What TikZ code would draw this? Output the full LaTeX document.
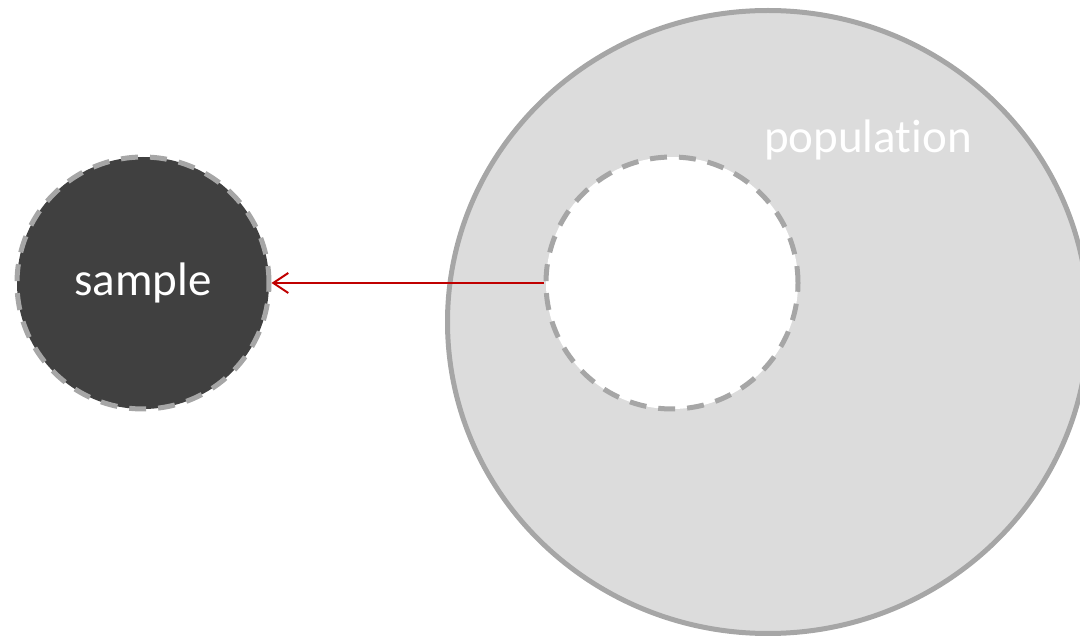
\documentclass[tikz,border=0pt]{standalone}
\usepackage{fontspec}
\setmainfont[Ligatures=NoCommon]{Carlito}
\usepackage{tikz}
\usetikzlibrary{arrows.meta,shapes.geometric}
\definecolor{ringgray}{HTML}{A6A6A6}
\definecolor{popfill}{HTML}{DCDCDC}
\definecolor{darkfill}{HTML}{404040}
\definecolor{linkred}{HTML}{C00000}
\tikzset{
  every picture/.style={line join=round, x=1pt, y=1pt},
  blob/.style={circle, inner sep=0pt, line width=5pt, draw=ringgray},
  dashring/.style={blob, dash pattern=on 17pt off 12pt},
  biglabel/.style={text=white, font=\fontsize{47}{56}\selectfont},
  link/.style={draw=linkred, line width=2pt, -{Straight Barb[length=15pt,width=20pt,line width=2pt]}},
}

\begin{document}
\begin{tikzpicture}
\useasboundingbox (0,0) rectangle (1080,-636);
\node[blob, ellipse, fill=popfill, minimum width=641pt, minimum height=623pt] (population) at (768,-322) {};
\node[biglabel] (poplabel) at (868,-140) {population};
\node[dashring, fill=white, minimum size=252pt] (subset) at (672,-283) {};
\node[dashring, fill=darkfill, minimum size=252pt, biglabel] (sample) at (143,-283) {sample};
\draw[link] (subset.west) -- (sample.east);
\end{tikzpicture}
\end{document}
